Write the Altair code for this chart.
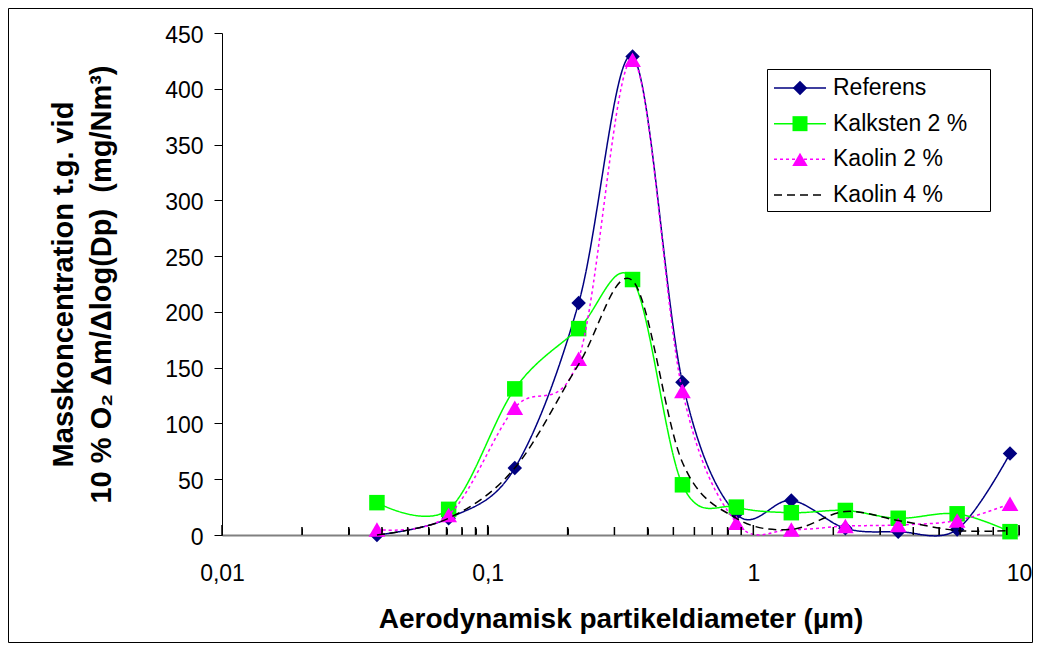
import altair as alt
import pandas as pd

# ---- data ----
diam_um = [0.0383, 0.0713, 0.1265, 0.220, 0.351, 0.541, 0.863, 1.39, 2.22, 3.51, 5.85, 9.25]
referens = [0, 15, 60, 208, 429, 137, 19, 31, 6, 3, 5, 73]
kalksten = [29, 23, 131, 185, 229, 45, 25, 20, 22, 15, 19, 3]
kaolin2 = [5, 18, 114, 158, 426, 129, 11, 5, 8, 9, 13, 28]
kaolin4 = [0, 15, 60, 153, 228, 65, 15, 5, 21, 13, 4, 4]

series_names = ["Referens", "Kalksten 2 %", "Kaolin 2 %", "Kaolin 4 %"]
series_values = [referens, kalksten, kaolin2, kaolin4]
series_colors = ["#000080", "#00FF00", "#FF00FF", "#000000"]
series_shapes = ["diamond", "square", "triangle-up", None]
series_sizes = [210, 240, 280, 0]
series_dashes = [[1, 0], [1, 0], [3, 3], [8, 5]]

x_tick_labels = [0.01, 0.1, 1, 10]
y_tick_values = list(range(0, 451, 50))
minor_ticks = [k * 10.0 ** e for e in (-2, -1, 0) for k in range(2, 10)]

x_title = "Aerodynamisk partikeldiameter (µm)"
y_title = ["Masskoncentration t.g. vid",
           "10 % O\u2082 \u0394m/\u0394log(Dp)\u00a0 (mg/Nm\u00b3)"]

FONT = "Arial, Liberation Sans, sans-serif"
W, H = 797, 502

XSCALE = alt.Scale(type="log", domain=[0.01, 10], nice=False)
X = alt.X(
    "d:Q",
    scale=XSCALE,
    axis=alt.Axis(
        orient="bottom",
        values=x_tick_labels,
        labelExpr="replace(toString(datum.value), '.', ',')",
        ticks=False, tickSize=0, labelPadding=38, labelBaseline="middle",
        labelFont=FONT, labelFontSize=23, labelColor="black",
        labelFlush=False, labelOverlap=False,
        domainColor="#808080", domainWidth=2, grid=False,
        title=x_title, titleFont=FONT, titleFontSize=28, titleFontWeight="bold",
        titleColor="black", titleX=W / 2, titleY=92, titleBaseline="alphabetic",
    ),
)
X_plain = alt.X("d:Q", scale=XSCALE, axis=None)


def tick_axis_x(values, length):
    # axis placed at the bottom edge but oriented "top", so its ticks point into the plot
    return alt.X(
        "d:Q", scale=XSCALE,
        axis=alt.Axis(orient="top", offset=-H, values=values, labels=False, domain=False,
                      ticks=True, tickSize=length, tickColor="black", tickWidth=1,
                      grid=False, title=None),
    )


Y = alt.Y(
    "v:Q",
    scale=alt.Scale(domain=[0, 450], nice=False),
    axis=alt.Axis(
        values=y_tick_values, tickSize=8, tickColor="black", tickWidth=1,
        domainColor="black", domainWidth=1, grid=False,
        labelPadding=11, labelFont=FONT, labelFontSize=23, labelColor="black", labelOffset=2,
        title=y_title, titleFont=FONT, titleFontSize=29, titleFontWeight="bold",
        titleColor="black", titleX=-150, titleY=H / 2, titleAngle=270,
        titleAlign="center", titleBaseline="alphabetic", titleLineHeight=38,
    ),
)

one = pd.DataFrame({"a": [0]})

frame = alt.Chart(one).mark_rect(fill="white", fillOpacity=0, stroke="black", strokeWidth=1).encode(
    x=alt.value(-213.5), x2=alt.value(810.5), y=alt.value(-24.5), y2=alt.value(609.5)
)
minor = alt.Chart(pd.DataFrame({"d": minor_ticks})).mark_point(opacity=0).encode(
    x=tick_axis_x(minor_ticks, 7), y=alt.value(H)
)
major = alt.Chart(pd.DataFrame({"d": x_tick_labels})).mark_point(opacity=0).encode(
    x=tick_axis_x(x_tick_labels, 9), y=alt.value(H)
)

main_layers = [frame, minor, major]
first = True
for name, vals, col, shp, sz, dash in zip(series_names, series_values, series_colors,
                                          series_shapes, series_sizes, series_dashes):
    df = pd.DataFrame({"d": diam_um, "v": vals})
    line = alt.Chart(df).mark_line(
        interpolate="cardinal", tension=0, color=col, strokeWidth=1.5, strokeDash=dash
    ).encode(x=X if first else X_plain, y=Y)
    first = False
    main_layers.append(line)
    if shp is not None:
        pts = alt.Chart(df).mark_point(
            shape=shp, filled=True, size=sz, color=col, opacity=1
        ).encode(x=X_plain, y=Y)
        main_layers.append(pts)

main = alt.layer(*main_layers).resolve_axis(x="independent")

# ---- inward x ticks drawn on top of everything ----
minor_rules = alt.Chart(pd.DataFrame({"d": minor_ticks})).mark_rule(
    color="black", strokeWidth=1.5, opacity=1
).encode(x=X_plain, y=alt.value(H - 8), y2=alt.value(H))
major_rules = alt.Chart(pd.DataFrame({"d": x_tick_labels})).mark_rule(
    color="black", strokeWidth=1.5, opacity=1
).encode(x=X_plain, y=alt.value(H - 10), y2=alt.value(H))

# ---- legend ----
leg_df = pd.DataFrame({"name": series_names})
LEG_Y = alt.Y("name:N", scale=alt.Scale(type="point", domain=series_names, range=[55, 162], padding=0), axis=None)
leg_color = alt.Color("name:N", scale=alt.Scale(domain=series_names, range=series_colors), legend=None)
leg_dash = alt.StrokeDash("name:N", scale=alt.Scale(domain=series_names, range=series_dashes), legend=None)

leg_box = alt.Chart(one).mark_rect(fill="white", stroke="black", strokeWidth=1).encode(
    x=alt.value(545.5), x2=alt.value(768.5), y=alt.value(36.5), y2=alt.value(178.5)
)
leg_line = alt.Chart(leg_df).mark_rule(strokeWidth=1.5).encode(
    x=alt.value(552), x2=alt.value(604), y=LEG_Y, color=leg_color, strokeDash=leg_dash
)
leg_pts = alt.Chart(leg_df.iloc[:3]).mark_point(filled=True, opacity=1).encode(
    x=alt.value(578), y=LEG_Y, color=leg_color,
    shape=alt.Shape("name:N", scale=alt.Scale(domain=series_names[:3], range=series_shapes[:3]), legend=None),
    size=alt.Size("name:N", scale=alt.Scale(domain=series_names[:3], range=series_sizes[:3]), legend=None),
)
leg_text = alt.Chart(leg_df).mark_text(
    align="left", baseline="middle", font=FONT, fontSize=23, color="black"
).encode(x=alt.value(611), y=LEG_Y, text="name:N")

legend = alt.layer(leg_box, leg_line, leg_pts, leg_text, minor_rules, major_rules)

chart = (
    alt.layer(main, legend)
    .resolve_scale(y="independent")
    .properties(
        width=W, height=H,
        autosize=alt.AutoSizeParams(type="none"),
        padding={"left": 214, "top": 25, "right": 14, "bottom": 108},
        background="white",
    )
    .configure_view(stroke=None)
)

chart.save("out.html", embed_options={"renderer": "svg", "actions": False})
